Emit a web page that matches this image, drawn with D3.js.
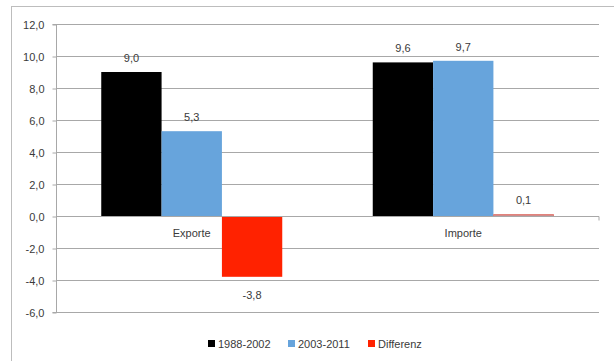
<!DOCTYPE html>
<html>
<head>
<meta charset="utf-8">
<script src="https://cdn.jsdelivr.net/npm/d3@7"></script>
<style>
  html, body { margin: 0; padding: 0; background: #fff; }
  svg { display: block; }
  text { font-family: "Liberation Sans", Arial, sans-serif; fill: #3a3a3a; }
</style>
</head>
<body>
<svg id="chart" width="614" height="361"></svg>
<script>
// Average growth rates per period and their difference
const categories = ["Exporte", "Importe"];
const seriesNames = ["1988-2002", "2003-2011", "Differenz"];
const seriesColors = ["#000000", "#67a4dc", "#ff2200"];
const values1988 = [9.0, 9.6];
const values2003 = [5.3, 9.7];
const valuesDiff = [-3.8, 0.1];
const yTicks = [-6, -4, -2, 0, 2, 4, 6, 8, 10, 12];

const seriesValues = [values1988, values2003, valuesDiff];
// German number format: decimal comma, plain hyphen for negatives
const deLocale = d3.formatLocale({ decimal: ",", thousands: ".", grouping: [3], currency: ["", " €"], minus: "-" });
const fmt = deLocale.format(".1f");

const svg = d3.select("#chart");

// outer chart frame
svg.append("rect")
  .attr("x", 11.5).attr("y", 6.5)
  .attr("width", 620).attr("height", 400)
  .attr("fill", "none").attr("stroke", "#bdbdbd").attr("stroke-width", 1);

const plot = { left: 56, right: 599, top: 24, bottom: 312 };

const y = d3.scaleLinear().domain([-6, 12]).range([plot.bottom, plot.top]);
const x = d3.scaleBand().domain(categories).range([plot.left, plot.right]).padding(0);
const barW = x.bandwidth() / 4.5;
const inner = d3.scaleBand().domain(seriesNames)
  .range([-1.5 * barW, 1.5 * barW]).padding(0);

// gridlines
svg.append("g").selectAll("line").data(yTicks.filter(t => t !== 0)).join("line")
  .attr("x1", plot.left).attr("x2", plot.right)
  .attr("y1", d => Math.round(y(d)) + 0.5).attr("y2", d => Math.round(y(d)) + 0.5)
  .attr("stroke", "#a8a8a8").attr("stroke-width", 1);

// y axis
const yAxis = d3.axisLeft(y).tickValues(yTicks).tickSize(4).tickFormat(fmt);
const gy = svg.append("g").attr("transform", `translate(${plot.left + 0.5},0.5)`).call(yAxis);
gy.select(".domain").attr("stroke", "#a8a8a8").attr("d", `M-4,${Math.round(plot.top)}H0V${Math.round(plot.bottom)}H-4`);
gy.selectAll(".tick line").attr("stroke", "#a8a8a8");
gy.selectAll(".tick text").attr("x", -12).attr("font-size", 11).attr("fill", "#3a3a3a")
  .style("font-family", "'Liberation Sans', Arial, sans-serif");

// bars
const groups = svg.append("g").selectAll("g").data(categories).join("g")
  .attr("transform", d => `translate(${x(d) + x.bandwidth() / 2},0)`);

groups.each(function(cat, ci) {
  const g = d3.select(this);
  seriesNames.forEach((s, si) => {
    const v = seriesValues[si][ci];
    g.append("rect")
      .attr("x", inner(s))
      .attr("width", inner.bandwidth())
      .attr("y", y(Math.max(0, v)))
      .attr("height", Math.max(1, Math.abs(y(v) - y(0))))
      .attr("fill", seriesColors[si]);
    g.append("text")
      .attr("x", inner(s) + inner.bandwidth() / 2)
      .attr("y", v >= 0 ? y(v) - 10 : y(v) + 22)
      .attr("text-anchor", "middle")
      .attr("font-size", 11)
      .text(fmt(v));
  });
});

// zero axis line with end tick
const y0 = Math.round(y(0)) + 0.5;
svg.append("path")
  .attr("d", `M${plot.left},${y0}H${plot.right}V${y0 + 4}`)
  .attr("fill", "none").attr("stroke", "#a8a8a8");
// redraw the small positive Differenz bar over the axis line
groups.each(function(cat, ci) {
  const v = valuesDiff[ci];
  if (v > 0) {
    d3.select(this).append("rect")
      .attr("x", inner("Differenz")).attr("width", inner.bandwidth())
      .attr("y", y(v)).attr("height", Math.max(1, y(0) - y(v)))
      .attr("fill", "#d08a8a");
  }
});

// category labels
svg.append("g").selectAll("text").data(categories).join("text")
  .attr("x", d => x(d) + x.bandwidth() / 2)
  .attr("y", 237)
  .attr("text-anchor", "middle")
  .attr("font-size", 11)
  .text(d => d);

// legend
const legendX = [208, 288, 368];
const legend = svg.append("g").selectAll("g").data(seriesNames).join("g")
  .attr("transform", (d, i) => `translate(${legendX[i]},344)`);
legend.append("rect").attr("x", 0).attr("y", -4).attr("width", 7).attr("height", 7)
  .attr("fill", (d, i) => seriesColors[i]);
legend.append("text").attr("x", 10).attr("y", 4).attr("font-size", 11).text(d => d);
</script>
</body>
</html>
